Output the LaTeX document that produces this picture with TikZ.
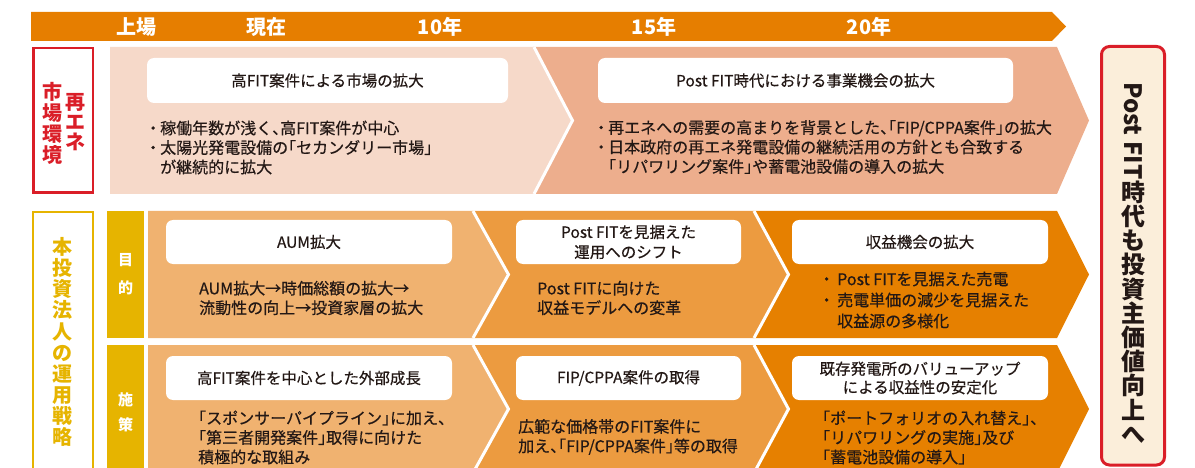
\documentclass[tikz,border=0pt]{standalone}
\usepackage{fontspec}
\setmainfont{Noto Sans CJK JP}[RawFeature=+halt, UprightFeatures={FakeBold=0.45}]
\definecolor{barO}{RGB}{230,126,0}
\definecolor{rowAa}{RGB}{246,217,201}
\definecolor{rowAb}{RGB}{237,174,141}
\definecolor{segA}{RGB}{240,178,112}
\definecolor{segB}{RGB}{236,155,64}
\definecolor{segC}{RGB}{230,128,0}
\definecolor{ylw}{RGB}{230,180,0}
\definecolor{redL}{RGB}{218,30,40}
\definecolor{cream}{RGB}{251,238,218}
\definecolor{txt}{RGB}{35,24,21}
\newcommand\bul[1][14pt]{\makebox[#1][c]{・}}
\newcommand\ind[1][14pt]{\makebox[#1]{}}
\begin{document}
\begin{tikzpicture}[x=1pt,y=-1pt,
  hd/.style={fill=white, rounded corners=7pt, inner sep=0pt, align=center, text=txt,
             font=\fontsize{15.5}{20}\selectfont},
  body/.style={anchor=west, inner sep=0pt, align=left, text=txt,
             font=\fontsize{16}{19.5}\selectfont},
  tl/.style={text=white, inner sep=0pt, font=\bfseries\fontsize{20}{20}\selectfont},
  chev/.style={white, line width=3pt},
  vtext/.style={inner sep=0pt, align=center}]
\useasboundingbox (0,0) rectangle (1195,468);
\clip (0,0) rectangle (1195,468);

% timeline bar
\fill[barO] (31,12) -- (1052,12) -- (1066,26.5) -- (1052,41) -- (31,41) -- cycle;
\node[tl] (t1) at (136,27) {上場};
\node[tl] (t2) at (266,27) {現在};
\node[tl] (t3) at (440,27) {10年};
\node[tl] (t4) at (654,27) {15年};
\node[tl] (t5) at (869,27) {20年};

% row 1
\fill[rowAb] (533,47) -- (1057,47) -- (1089,120.5) -- (1057,194) -- (533,194) -- (571,120.5) -- cycle;
\fill[rowAa] (110,47) -- (533,47) -- (571,120.5) -- (533,194) -- (110,194) -- cycle;
\draw[chev] (534,47) -- (572.5,120.5) -- (534,194);

% row 2
\fill[segC] (753,211) -- (1057,211) -- (1089,274.5) -- (1057,338) -- (753,338) -- (787,274.5) -- cycle;
\fill[segB] (472,211) -- (753,211) -- (787,274.5) -- (753,338) -- (472,338) -- (507,274.5) -- cycle;
\fill[segA] (148,211) -- (472,211) -- (507,274.5) -- (472,338) -- (148,338) -- cycle;
\draw[chev] (473,211) -- (508.5,274.5) -- (473,338);
\draw[chev] (754,211) -- (788.5,274.5) -- (754,338);

% row 3
\fill[segC] (753,345) -- (1057,345) -- (1089,409) -- (1057,473) -- (753,473) -- (787,409) -- cycle;
\fill[segB] (472,345) -- (753,345) -- (787,409) -- (753,473) -- (472,473) -- (507,409) -- cycle;
\fill[segA] (148,345) -- (472,345) -- (507,409) -- (472,473) -- (148,473) -- cycle;
\draw[chev] (473,345) -- (508.5,409) -- (473,473);
\draw[chev] (754,345) -- (788.5,409) -- (754,473);

% left labels
\draw[redL, line width=2.5pt, fill=white] (33.25,48.25) rectangle (92.75,192.75);
\node[vtext, text=redL, font=\bfseries\fontsize{20}{20}\selectfont] (lr1) at (75,122) {再\\エ\\ネ};
\node[vtext, text=redL, font=\bfseries\fontsize{20}{21}\selectfont] (lr2) at (52,123.5) {市\\場\\環\\境};

\draw[ylw, line width=2pt] (33,212) rectangle (93,500);
\node[vtext, text=ylw, font=\bfseries\fontsize{20}{21.1}\selectfont] (ly) at (62,342) {本\\投\\資\\法\\人\\の\\運\\用\\戦\\略};

\fill[ylw] (107,211) rectangle (144,338);
\fill[ylw] (107,345) rectangle (144,500);
\node[vtext, text=white, font=\bfseries\fontsize{15}{28}\selectfont] (lm) at (125.5,274) {目\\的};
\node[vtext, text=white, font=\bfseries\fontsize{15}{25}\selectfont] (ls) at (125.5,412) {施\\策};

% right box
\draw[redL, line width=3pt, fill=cream, rounded corners=8pt] (1101.5,46.5) rectangle (1164.5,465);
\node[inner sep=0pt, rotate=-90, anchor=west, text=txt, font=\bfseries\fontsize{24}{24}\selectfont] (rp) at (1133,82) {Post FIT};
\node[vtext, text=txt, font=\bfseries\fontsize{24}{24.2}\selectfont] (rc) at (1133,312) {時\\代\\も\\投\\資\\主\\価\\値\\向\\上\\へ};

% row 1 content
\node[hd, minimum width=361pt, minimum height=45pt] (h11) at (327.5,80.5) {高FIT案件による市場の拡大};
\node[hd, minimum width=415pt, minimum height=45pt] (h12) at (805.5,80.5) {Post FIT時代における事業機会の拡大};
\node[body] (b11) at (146,147.5) {\bul 稼働年数が浅く、高FIT案件が中心\\\bul 太陽光発電設備の「セカンダリー市場」\\\ind が継続的に拡大};
\node[body] (b12) at (594,147) {\bul 再エネへの需要の高まりを背景とした、「FIP/CPPA案件」の拡大\\\bul 日本政府の再エネ発電設備の継続活用の方針とも合致する\\\ind 「リパワリング案件」や蓄電池設備の導入の拡大};

% row 2 content
\node[hd, minimum width=286pt, minimum height=44pt] (h21) at (309,242) {AUM拡大};
\node[hd, minimum width=225pt, minimum height=44pt] (h22) at (628.5,242) {Post FITを見据えた\\運用へのシフト};
\node[hd, minimum width=256pt, minimum height=44pt] (h23) at (920,242) {収益機会の拡大};
\node[body] (b21) at (199,298) {AUM拡大→時価総額の拡大→\\流動性の向上→投資家層の拡大};
\node[body] (b22) at (537,298) {Post FITに向けた\\収益モデルへの変革};
\node[body, font=\fontsize{16}{21}\selectfont] (b23) at (816,300) {\bul[21pt]Post FITを見据えた売電\\\bul[21pt]売電単価の減少を見据えた\\\ind[21pt]収益源の多様化};

% row 3 content
\node[hd, minimum width=286pt, minimum height=44pt] (h31) at (309,378) {高FIT案件を中心とした外部成長};
\node[hd, minimum width=225pt, minimum height=44pt] (h32) at (628.5,378) {FIP/CPPA案件の取得};
\node[hd, minimum width=256pt, minimum height=44pt, font=\fontsize{15.5}{18.5}\selectfont] (h33) at (920,378) {既存発電所のバリューアップ\\による収益性の安定化};
\node[body] (b31) at (198,437.5) {「スポンサーパイプライン」に加え、\\「第三者開発案件」取得に向けた\\積極的な取組み};
\node[body] (b32) at (518,437) {広範な価格帯のFIT案件に\\加え、「FIP/CPPA案件」等の取得};
\node[body] (b33) at (822,437.5) {「ポートフォリオの入れ替え」、\\「リパワリングの実施」及び\\「蓄電池設備の導入」};
\end{tikzpicture}
\end{document}
